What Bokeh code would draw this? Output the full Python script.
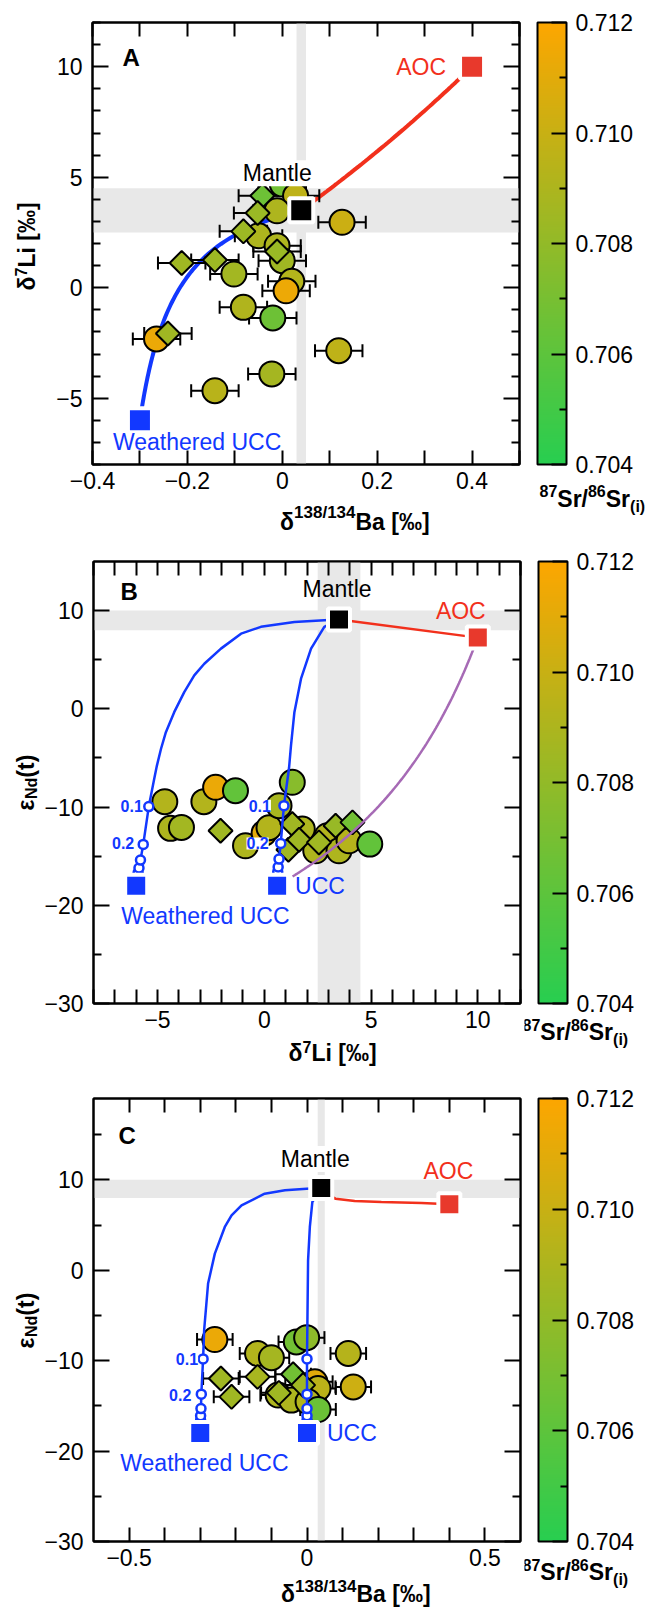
import numpy as np
from bokeh.plotting import figure
from bokeh.models import (Range1d, LinearAxis, FixedTicker, BoxAnnotation, Label,
                          ColorBar, LinearColorMapper, PrintfTickFormatter, ColumnDataSource)
from bokeh.transform import transform
from bokeh.layouts import column, row
from bokeh.embed import file_html
from bokeh.resources import INLINE

FONT = "Liberation Sans"
BLUE = "#1238ff"
RED = "#f2301c"
RED_SQ = "#e8392c"
PURPLE = "#a66ab5"
BAND = "#e8e8e8"

# ---------------- colour scale (87Sr/86Sr initial) ----------------
SR_LOW, SR_HIGH = 0.704, 0.712
SR_TICKS = [0.704, 0.706, 0.708, 0.710, 0.712]
SR_MINOR = [0.705, 0.707, 0.709, 0.711]
C_LO, C_HI = (40, 206, 80), (253, 166, 0)

# ---------------- end-members ----------------
# Panel A: x = d138/134Ba, y = d7Li
A_wucc = (-0.30, -6.0)
A_mantle = (0.04, 3.5)
A_aoc = (0.40, 10.0)
A_R_wucc = 5.2      # concentration-contrast ratio (Ba/Li) of the mixing hyperbola
A_R_aoc = 1.15
# Panel B: x = d7Li, y = eNd(t)
B_wucc = (-6.0, -18.0)
B_ucc = (0.6, -18.0)
B_mantle = (3.5, 9.1)
B_aoc = (10.0, 7.25)
B_R_aoc_ucc = 0.46  # (Li/Nd) contrast of the AOC-UCC hyperbola
B_aoc_ucc_end = 26.0
# Panel C: x = d138/134Ba, y = eNd(t)
C_wucc = (-0.30, -18.0)
C_ucc = (0.0, -18.0)
C_mantle = (0.04, 9.1)
C_aoc = (0.40, 7.3)

# ---------------- samples ----------------
A_c_ba = [0.000, 0.028, -0.011, 0.126, -0.050, -0.011, 0.000, -0.102, 0.020, 0.008,
          -0.082, -0.020, -0.265, 0.119, -0.022, -0.142]
A_c_li = [4.69, 4.16, 3.48, 2.96, 2.35, 1.90, 1.22, 0.62, 0.29, -0.14,
          -0.89, -1.37, -2.32, -2.85, -3.90, -4.66]
A_c_sr = [0.7068, 0.7096, 0.7090, 0.7101, 0.7090, 0.7090, 0.7085, 0.7086, 0.7092, 0.7114,
          0.7091, 0.7066, 0.7113, 0.7096, 0.7087, 0.7094]
A_c_err = [0.05] * 16
A_d_ba = [-0.042, -0.052, -0.082, -0.011, -0.142, -0.212, -0.241]
A_d_li = [4.16, 3.38, 2.55, 1.64, 1.25, 1.12, -2.07]
A_d_sr = [0.7066, 0.7083, 0.7084, 0.7083, 0.7084, 0.7085, 0.7085]
A_d_err = [0.05] * 7

B_c_li = [-4.66, -4.39, -3.88, -2.83, -2.28, -1.35, -0.88, -0.01, 0.22, 0.69,
          1.31, 1.78, 2.41, 2.95, 3.50, 3.97, 4.94]
B_c_nd = [-9.45, -12.17, -12.07, -9.45, -7.99, -8.33, -13.94, -12.65, -12.10, -9.86,
          -7.48, -12.24, -14.45, -12.92, -14.45, -13.43, -13.77]
B_c_sr = [0.7092, 0.7090, 0.7086, 0.7092, 0.7113, 0.7062, 0.7090, 0.7110, 0.7092, 0.7088,
          0.7076, 0.7090, 0.7090, 0.7092, 0.7090, 0.7093, 0.7062]
B_d_li = [-2.05, 1.31, 1.13, 1.63, 2.56, 3.34, 4.13]
B_d_nd = [-12.41, -11.73, -14.35, -13.33, -13.60, -11.90, -11.56]
B_d_sr = [0.7085, 0.7085, 0.7085, 0.7085, 0.7085, 0.7082, 0.7068]

C_c_ba = [-0.259, -0.139, -0.100, -0.030, -0.001, 0.116, 0.130, 0.022, 0.031, -0.081,
          -0.044, 0.003, 0.031]
C_c_nd = [-7.66, -9.20, -9.67, -7.93, -7.45, -9.20, -12.90, -12.34, -13.07, -13.80,
          -14.36, -14.55, -15.40]
C_c_sr = [0.7113, 0.7092, 0.7087, 0.7068, 0.7078, 0.7093, 0.7102, 0.7110, 0.7095, 0.7090,
          0.7090, 0.7092, 0.7065]
C_c_err = [0.05] * 13
C_d_ba = [-0.242, -0.212, -0.139, -0.039, -0.079, -0.011]
C_d_nd = [-11.97, -14.00, -11.79, -11.50, -13.56, -12.70]
C_d_sr = [0.7085, 0.7085, 0.7088, 0.7068, 0.7085, 0.7085]
C_d_err = [0.05] * 6

# ---------------- mixing curves ----------------
B_wucc_curve_x = [3.5, 2.81, 1.41, -0.16, -1.09, -2.03, -2.81, -3.28, -3.75, -4.22, -4.61,
                  -4.84, -5.03, -5.16, -5.41, -5.67, -5.80, -5.87, -6.0]
B_wucc_curve_y = [9.1, 9.02, 8.85, 8.35, 7.65, 6.13, 4.59, 3.41, 1.70, -0.34, -2.38,
                  -4.09, -5.78, -7.16, -9.95, -13.8, -15.4, -16.2, -18.0]
B_ucc_curve_x = [3.5, 2.81, 2.19, 1.72, 1.41, 1.25, 1.16, 0.92, 0.77, 0.69, 0.65, 0.6]
B_ucc_curve_y = [9.1, 8.35, 6.13, 3.07, -0.34, -3.74, -6.0, -9.86, -13.7, -15.3, -16.1, -18.0]

C_wucc_curve_x = [0.04, -0.001, -0.062, -0.119, -0.184, -0.212, -0.231, -0.259, -0.278,
                  -0.289, -0.292, -0.297, -0.298, -0.299, -0.30]
C_wucc_curve_y = [9.1, 9.03, 8.84, 8.47, 7.18, 6.08, 4.79, 1.84, -1.47, -6.6, -9.8, -13.7,
                  -15.3, -16.1, -18.0]
C_ucc_curve_x = [0.04, 0.015, 0.008, 0.003, 0.001, 0.0, 0.0, 0.0, 0.0, 0.0]
C_ucc_curve_y = [9.1, 7.55, 4.79, 1.10, -6.26, -9.8, -13.7, -15.3, -16.1, -18.0]
C_aoc_curve_x = [0.04, 0.060, 0.080, 0.134, 0.209, 0.322, 0.40]
C_aoc_curve_y = [9.1, 8.35, 7.92, 7.66, 7.55, 7.44, 7.3]

# mixing-fraction markers (0.1 ... 0.5)
B_fw_x = [-5.41, -5.67, -5.80, -5.87, -5.91]
B_fw_y = [-9.95, -13.8, -15.4, -16.2, -16.7]
B_fu_x = [0.92, 0.77, 0.69, 0.65, 0.63]
B_fu_y = [-9.86, -13.7, -15.3, -16.1, -16.6]
C_fw_x = [-0.292, -0.297, -0.298, -0.299, -0.299]
C_fw_y = [-9.8, -13.7, -15.3, -16.1, -16.6]
C_fu_x = [0.0, 0.0, 0.0, 0.0, 0.0]
C_fu_y = [-9.8, -13.7, -15.3, -16.1, -16.6]

# ---------------- helpers ----------------
palette = ["#%02x%02x%02x" % tuple(int(round(C_LO[k] + (C_HI[k] - C_LO[k]) * i / 255.0))
                                     for k in range(3)) for i in range(256)]
mapper = LinearColorMapper(palette=palette, low=SR_LOW, high=SR_HIGH)

W_BOLD = {'0': .556, '1': .556, '2': .556, '3': .556, '4': .556, '5': .556, '6': .556,
          '7': .556, '8': .556, '9': .556, '/': .278, 'B': .722, 'a': .556, ' ': .278,
          '[': .333, ']': .333, '\u2030': 1.0, 'L': .611, 'i': .278, 'N': .722, 'd': .611,
          '(': .333, ')': .333, 't': .333, 'S': .667, 'r': .389, '\u03b4': .611, '\u03b5': .5}
MID = 0.35   # middle of the text box above the baseline, in em


def twidth(s, size):
    return sum(W_BOLD.get(ch, .556) for ch in s) * size


def rich(p, pieces, x0, y0, vertical=False):
    """Mixed-size bold text; (x0, y0) = page position of the main baseline start.
    p uses (page x, -page y) data coordinates."""
    pos = 0.0
    for t, size, shift in pieces:
        off = shift + MID * size
        if vertical:
            px, py, ang = x0 - off, y0 - pos, np.pi / 2
        else:
            px, py, ang = x0 + pos, y0 - off, 0
        p.add_layout(Label(x=px, y=-py, text=t, text_font=FONT, text_font_size=f"{size}px",
                           text_font_style="bold", text_color="black", angle=ang,
                           text_align="left", text_baseline="middle"))
        pos += twidth(t, size)


def page_fig(x0, x1, y0, y1):
    """A figure whose frame is the whole canvas; data = (page x, -page y)."""
    p = figure(frame_width=int(x1 - x0), frame_height=int(y1 - y0),
               x_range=Range1d(x0, x1), y_range=Range1d(-y1, -y0),
               x_axis_location=None, y_axis_location=None, output_backend="svg",
               toolbar_location=None, min_border=0)
    p.grid.visible = False
    p.outline_line_color = None
    p.background_fill_color = "white"
    p.border_fill_color = "white"
    return p


def style_axis(ax, ticks, minor, tick_in, minor_in, labels=None, standoff=8):
    ax.ticker = FixedTicker(ticks=ticks, minor_ticks=minor)
    ax.major_tick_in = tick_in
    ax.major_tick_out = 0
    ax.minor_tick_in = minor_in
    ax.minor_tick_out = 0
    for a in ("major_tick_line", "minor_tick_line", "axis_line"):
        setattr(ax, a + "_color", "black")
        setattr(ax, a + "_width", 2)
    ax.axis_label = None
    if labels is None:
        ax.major_label_overrides = {t: "" for t in ticks}
        ax.major_label_text_color = None
        ax.major_label_standoff = 0
    else:
        ax.major_label_overrides = labels
        ax.major_label_text_font = FONT
        ax.major_label_text_font_size = "23px"
        ax.major_label_text_color = "black"
        ax.major_label_standoff = standoff


PX0, PX_YLAB, PX_PLOT_END, PX1 = 0, 41, 523, 654
FRAME_L = 92
BOT_B = 34
CB_X = 537


def panel(geo, xr, yr, xt, xm, xl, yt, ym, yl):
    top, bottom, ftop, fh = geo
    tb = ftop - top
    p = figure(frame_width=427, frame_height=fh, x_range=Range1d(*xr), y_range=Range1d(*yr),
               output_backend="svg", toolbar_location=None,
               min_border_left=FRAME_L - PX_YLAB, min_border_right=PX_PLOT_END - FRAME_L - 427,
               min_border_top=tb, min_border_bottom=BOT_B)
    p.grid.visible = False
    p.outline_line_color = "black"
    p.outline_line_width = 2
    p.background_fill_color = "white"
    p.border_fill_color = "white"
    style_axis(p.xaxis[0], xt, xm, 14, 14, xl, standoff=7)
    style_axis(p.yaxis[0], yt, ym, 16, 8, yl, standoff=10)
    top_ax = LinearAxis()
    style_axis(top_ax, xt, xm, 14, 14)
    p.add_layout(top_ax, "above")
    right_ax = LinearAxis()
    style_axis(right_ax, yt, ym, 16, 8)
    p.add_layout(right_ax, "right")
    plot_end = top + tb + fh + BOT_B
    xlab = page_fig(PX_YLAB, PX_PLOT_END, plot_end, bottom)
    ylab = page_fig(PX0, PX_YLAB, top, bottom)
    cbf = page_fig(PX_PLOT_END, PX1, top, bottom)
    cb = ColorBar(color_mapper=mapper, ticker=FixedTicker(ticks=SR_TICKS, minor_ticks=SR_MINOR),
                  formatter=PrintfTickFormatter(format="%.3f"), width=29, height=fh,
                  location=(CB_X - PX_PLOT_END, bottom - (ftop + fh)), padding=0, margin=0,
                  label_standoff=9, major_label_text_font=FONT,
                  major_label_text_font_size="23px", major_label_text_color="black",
                  major_tick_in=15, major_tick_out=0, major_tick_line_color="black",
                  major_tick_line_width=2, minor_tick_in=7, minor_tick_out=0,
                  minor_tick_line_color="black", minor_tick_line_width=2,
                  bar_line_color="black", bar_line_width=2, border_line_color=None,
                  background_fill_color=None)
    cbf.add_layout(cb)
    lay = row(ylab, column(p, xlab, spacing=0), cbf, spacing=0)
    return p, xlab, ylab, cbf, lay


def bands(p, xlo, xhi, ylo, yhi):
    p.add_layout(BoxAnnotation(left=xlo, right=xhi, fill_color=BAND, fill_alpha=1,
                               line_color=None, level="underlay"))
    p.add_layout(BoxAnnotation(bottom=ylo, top=yhi, fill_color=BAND, fill_alpha=1,
                               line_color=None, level="underlay"))


def errbars(p, x, y, e):
    x = np.array(x); y = np.array(y); e = np.array(e)
    p.segment(x0=x - e, x1=x + e, y0=y, y1=y, line_color="black", line_width=2)
    p.scatter(np.concatenate([x - e, x + e]), np.concatenate([y, y]), marker="dash",
              angle=np.pi / 2, size=13, line_color="black", line_width=2)


def samples(p, cx, cy, csr, dx, dy, dsr):
    p.scatter(x="x", y="y", source=ColumnDataSource(dict(x=cx, y=cy, sr=csr)),
              marker="circle", size=25, fill_color=transform("sr", mapper),
              line_color="black", line_width=2)
    p.scatter(x="x", y="y", source=ColumnDataSource(dict(x=dx, y=dy, sr=dsr)),
              marker="square", angle=np.pi / 4, size=17, fill_color=transform("sr", mapper),
              line_color="black", line_width=2)


def endmember(p, pt, color, size=22):
    p.scatter([pt[0]], [pt[1]], marker="square", size=size, fill_color=color,
              line_color="white", line_width=4)


def fmarks(p, x, y):
    p.scatter(x, y, marker="circle", size=9, fill_color="white", line_color=BLUE,
              line_width=2.5)


def txt(p, pt, text, color, dx, dy, align="left", size=23, bold=False, bg=None):
    p.add_layout(Label(x=pt[0], y=pt[1], x_offset=dx, y_offset=dy, text=text,
                       text_font=FONT, text_font_size=f"{size}px", text_color=color,
                       text_font_style="bold" if bold else "normal", text_align=align,
                       text_baseline="middle", background_fill_color=bg))


def letter(p, text, x_page, base_page, frame_bottom):
    p.add_layout(Label(x=x_page - FRAME_L, y=frame_bottom - (base_page - MID * 24),
                       x_units="screen", y_units="screen", text=text,
                       text_font=FONT, text_font_size="24px", text_font_style="bold",
                       text_color="black", text_baseline="middle"))


def mix(a, b, R, s_max=1e4, n=240):
    """binary mixing hyperbola from end-member a toward b; R = odds(wx)/odds(wy)."""
    s = np.logspace(-4, np.log10(s_max), n)
    wy = s / (1 + s)
    wx = R * s / (1 + R * s)
    x = np.concatenate([[a[0]], a[0] + wx * (b[0] - a[0])])
    y = np.concatenate([[a[1]], a[1] + wy * (b[1] - a[1])])
    return x, y


SR_PIECES = [("87", 16, 10), ("Sr/", 23, 0), ("86", 16, 10), ("Sr", 23, 0), ("(i)", 16, -5)]
BA_PIECES = [("\u03b4", 23, 0), ("138/134", 17, 12), ("Ba [\u2030]", 23, 0)]
LI_PIECES = [("\u03b4", 23, 0), ("7", 16, 9), ("Li [\u2030]", 23, 0)]
ND_PIECES = [("\u03b5", 23, 0), ("Nd", 16, -3), ("(t)", 23, 0)]

# ======================= Panel A =======================
pA, xA, yA, cA, layA = panel((0, 540, 22, 442), (-0.4, 0.5), (-8, 12),
                             [-0.4, -0.2, 0, 0.2, 0.4], [-0.3, -0.1, 0.1, 0.3, 0.5],
                             {-0.4: "\u22120.4", -0.2: "\u22120.2", 0: "0", 0.2: "0.2",
                              0.4: "0.4"},
                             [-5, 0, 5, 10], [v for v in range(-8, 13) if v % 5 != 0],
                             {-5: "\u22125", 0: "0", 5: "5", 10: "10"})
bands(pA, 0.03, 0.05, 2.5, 4.5)
mx, my = mix(A_mantle, A_wucc, A_R_wucc)
pA.line(mx, my, line_color=BLUE, line_width=4)
mx, my = mix(A_mantle, A_aoc, A_R_aoc)
pA.line(mx, my, line_color=RED, line_width=4)
errbars(pA, A_c_ba + A_d_ba, A_c_li + A_d_li, A_c_err + A_d_err)
samples(pA, A_c_ba, A_c_li, A_c_sr, A_d_ba, A_d_li, A_d_sr)
endmember(pA, A_wucc, BLUE, 24)
endmember(pA, A_aoc, RED_SQ, 24)
endmember(pA, A_mantle, "black", 24)
txt(pA, A_aoc, "AOC", RED, -26, 0, "right")
txt(pA, A_mantle, "Mantle", "black", -24, 37, "center", bg="white")
txt(pA, A_wucc, "Weathered UCC", BLUE, -27, -22)
letter(pA, "A", 122, 65, 464)
rich(xA, BA_PIECES, 228.5, 529.5)
rich(yA, LI_PIECES, 35, 290, vertical=True)
rich(cA, SR_PIECES, 539, 506.5)

# ======================= Panel B =======================
pB, xB, yB, cB, layB = panel((540, 1075, 561, 442), (-8, 12), (-30, 15),
                             [-5, 0, 5, 10], [v for v in range(-8, 13) if v % 5 != 0],
                             {-5: "\u22125", 0: "0", 5: "5", 10: "10"},
                             [-30, -20, -10, 0, 10], [-25, -15, -5, 5],
                             {-30: "\u221230", -20: "\u221220", -10: "\u221210", 0: "0",
                              10: "10"})
bands(pB, 2.5, 4.5, 8, 10)
samples(pB, B_c_li, B_c_nd, B_c_sr, B_d_li, B_d_nd, B_d_sr)
pB.line(B_wucc_curve_x, B_wucc_curve_y, line_color=BLUE, line_width=2.5)
pB.line(B_ucc_curve_x, B_ucc_curve_y, line_color=BLUE, line_width=2.5)
mx, my = mix(B_aoc, B_ucc, B_R_aoc_ucc, B_aoc_ucc_end)
pB.line(mx, my, line_color=PURPLE, line_width=2.5)
pB.line([B_mantle[0], B_aoc[0]], [B_mantle[1], B_aoc[1]], line_color=RED, line_width=2.5)
fmarks(pB, B_fw_x[::-1], B_fw_y[::-1])
fmarks(pB, B_fu_x[::-1], B_fu_y[::-1])
endmember(pB, B_wucc, BLUE)
endmember(pB, B_ucc, BLUE)
endmember(pB, B_aoc, RED_SQ)
endmember(pB, B_mantle, "black")
txt(pB, B_mantle, "Mantle", "black", -2, 30, "center")
txt(pB, B_aoc, "AOC", RED, -17, 27, "center")
txt(pB, B_wucc, "Weathered UCC", BLUE, -15, -30)
txt(pB, B_ucc, "UCC", BLUE, 18, 0)
txt(pB, (B_fw_x[0], B_fw_y[0]), "0.1", BLUE, -6, 1, "right", 16, True, "white")
txt(pB, (B_fw_x[1], B_fw_y[1]), "0.2", BLUE, -9, 1, "right", 16, True, "white")
txt(pB, (B_fu_x[0], B_fu_y[0]), "0.1", BLUE, -13, 0, "right", 16, True, "white")
txt(pB, (B_fu_x[1], B_fu_y[1]), "0.2", BLUE, -12, 0, "right", 16, True, "white")
letter(pB, "B", 119, 599.3, 1003)
rich(xB, LI_PIECES, 236, 1061)
rich(yB, ND_PIECES, 34, 810, vertical=True)
rich(cB, SR_PIECES, 521, 1040)

# ======================= Panel C =======================
pC, xC, yC, cC, layC = panel((1075, 1608, 1098, 443), (-0.6, 0.6), (-30, 19),
                             [-0.5, 0, 0.5], [-0.4, -0.3, -0.2, -0.1, 0.1, 0.2, 0.3, 0.4],
                             {-0.5: "\u22120.5", 0: "0", 0.5: "0.5"},
                             [-30, -20, -10, 0, 10], [-25, -15, -5, 5, 15],
                             {-30: "\u221230", -20: "\u221220", -10: "\u221210", 0: "0",
                              10: "10"})
bands(pC, 0.03, 0.05, 8, 10)
errbars(pC, C_c_ba + C_d_ba, C_c_nd + C_d_nd, C_c_err + C_d_err)
samples(pC, C_c_ba, C_c_nd, C_c_sr, C_d_ba, C_d_nd, C_d_sr)
pC.line(C_wucc_curve_x, C_wucc_curve_y, line_color=BLUE, line_width=2.5)
pC.line(C_ucc_curve_x, C_ucc_curve_y, line_color=BLUE, line_width=2.5)
pC.line(C_aoc_curve_x, C_aoc_curve_y, line_color=RED, line_width=2.5)
fmarks(pC, C_fw_x[::-1], C_fw_y[::-1])
fmarks(pC, C_fu_x[::-1], C_fu_y[::-1])
endmember(pC, C_wucc, BLUE)
endmember(pC, C_ucc, BLUE)
endmember(pC, C_aoc, RED_SQ)
endmember(pC, C_mantle, "black")
txt(pC, C_mantle, "Mantle", "black", -6, 29, "center", bg="white")
txt(pC, C_aoc, "AOC", RED, -1, 33, "center")
txt(pC, C_wucc, "Weathered UCC", BLUE, -80, -30)
txt(pC, C_ucc, "UCC", BLUE, 20, 0)
txt(pC, (C_fw_x[0], C_fw_y[0]), "0.1", BLUE, -5, 0, "right", 16, True, "white")
txt(pC, (C_fw_x[1], C_fw_y[1]), "0.2", BLUE, -10, -1, "right", 16, True, "white")
letter(pC, "C", 117, 1143.6, 1541)
rich(xC, [("\u03b4", 23, 0), ("138/134", 17, 10), ("Ba [\u2030]", 23, 0)], 228.5, 1602)
rich(yC, ND_PIECES, 34, 1348, vertical=True)
rich(cC, SR_PIECES, 521, 1580)

page = column(layA, layB, layC, spacing=0)
open("out.html", "w").write(file_html(page, INLINE))
